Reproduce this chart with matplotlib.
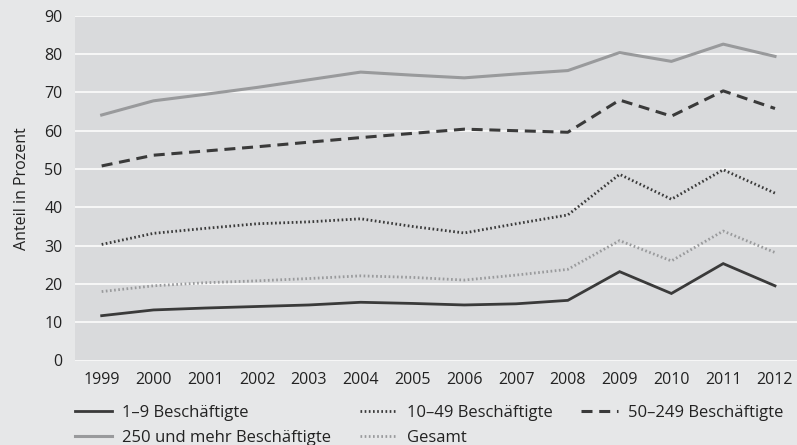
import matplotlib
matplotlib.use("Agg")
import matplotlib.pyplot as plt

plt.rcParams['font.family'] = ['Open Sans', 'DejaVu Sans']

years = list(range(1999, 2013))
small = [11.7, 13.2, 13.7, 14.1, 14.5, 15.2, 14.9, 14.5, 14.8, 15.7, 23.2, 17.5, 25.3, 19.5]
mid_small = [30.3, 33.2, 34.5, 35.7, 36.2, 37.0, 35.0, 33.3, 35.7, 38.0, 48.6, 42.1, 49.8, 43.7]
mid_large = [50.8, 53.6, 54.7, 55.8, 57.0, 58.2, 59.3, 60.4, 60.0, 59.6, 68.0, 63.8, 70.4, 65.8]
large = [64.1, 67.8, 69.5, 71.3, 73.3, 75.3, 74.5, 73.8, 74.8, 75.7, 80.4, 78.1, 82.6, 79.4]
total = [18.0, 19.5, 20.3, 20.8, 21.4, 22.1, 21.7, 21.0, 22.3, 23.8, 31.3, 26.0, 33.8, 28.2]
labels = ["1–9 Beschäftigte", "10–49 Beschäftigte", "50–249 Beschäftigte",
          "250 und mehr Beschäftigte", "Gesamt"]

dark = "#3a3a3a"
light = "#999a9c"

fig = plt.figure(figsize=(7.97, 4.45), dpi=100, facecolor="#e6e7e8")
ax = fig.add_axes([75 / 797, 84.5 / 445, 722 / 797, 344.7 / 445])
ax.set_facecolor("#d9dadc")

l1, = ax.plot(years, small, color=dark, lw=2.0, solid_joinstyle="miter")
l2, = ax.plot(years, mid_small, color=dark, lw=2.0, linestyle=(0, (0.6, 0.9)))
l3, = ax.plot(years, mid_large, color=dark, lw=2.2, linestyle=(0, (3.6, 2.2)))
l4, = ax.plot(years, large, color=light, lw=2.2)
l5, = ax.plot(years, total, color=light, lw=2.0, linestyle=(0, (0.6, 0.9)))

ax.set_xlim(1998.485, 2012.425)
ax.set_ylim(0, 90)
ax.set_xticks(years)
ax.set_yticks(range(0, 100, 10))
ax.yaxis.grid(True, color="white", lw=1.1)
ax.set_axisbelow(True)
for s in ax.spines.values():
    s.set_visible(False)
ax.tick_params(length=0, labelsize=11.5, colors="#222222")
ax.tick_params(axis="y", pad=9)
ax.tick_params(axis="x", pad=8)
ax.set_ylabel("Anteil in Prozent", fontsize=11.5, color="#222222", labelpad=10)

handles = [l1, l4, l2, l5, l3]
order = [labels[0], labels[3], labels[1], labels[4], labels[2]]
fig.legend(handles, order, loc="upper left", bbox_to_anchor=(75 / 797, 1 - 405 / 445),
           ncol=3, frameon=False, fontsize=12, handlelength=2.2, handletextpad=0.6,
           columnspacing=1.75, labelspacing=0.55, borderaxespad=0, borderpad=0,
           labelcolor="#222222")

fig.savefig("out.png", dpi=100, facecolor=fig.get_facecolor())
